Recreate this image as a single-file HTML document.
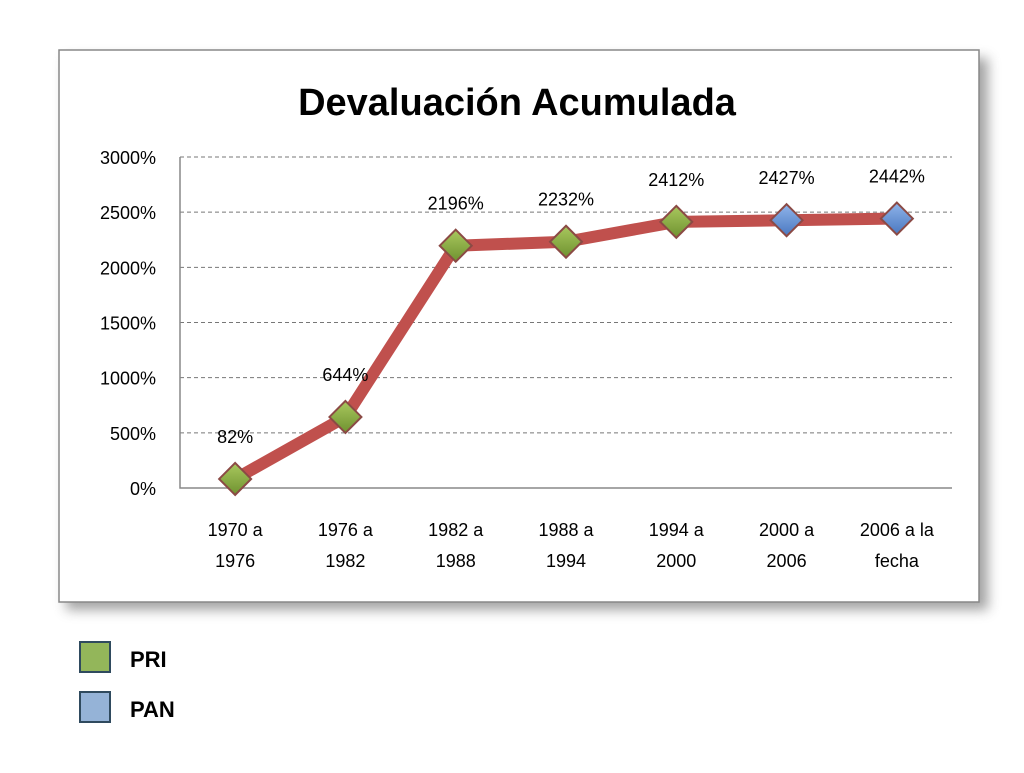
<!DOCTYPE html>
<html><head><meta charset="utf-8"><style>
body{margin:0;width:1024px;height:768px;background:#fff;font-family:"Liberation Sans",sans-serif;overflow:hidden}
</style></head><body>
<svg width="1024" height="768">
<defs><filter id="sh" x="-5%" y="-5%" width="115%" height="115%"><feGaussianBlur stdDeviation="6"/></filter>
<linearGradient id="gG" x1="0" y1="0" x2="0" y2="1"><stop offset="0" stop-color="#a9c85e"/><stop offset="1" stop-color="#6f9230"/></linearGradient>
<linearGradient id="gB" x1="0" y1="0" x2="0" y2="1"><stop offset="0" stop-color="#8fb4ea"/><stop offset="1" stop-color="#4a78c0"/></linearGradient></defs>
<rect x="66" y="58" width="922" height="552" fill="#666" opacity="0.6" filter="url(#sh)"/>
<rect x="59" y="50" width="920" height="552" fill="#fff" stroke="#888" stroke-width="1.5"/>
<text x="517" y="115" text-anchor="middle" font-size="38" font-weight="bold">Devaluación Acumulada</text>
<g id="grid"></g><g id="axes"></g><g id="marks"></g>
<rect x="80" y="642" width="30" height="30" fill="#93b65a" stroke="#2f4a5e" stroke-width="2"/>
<text x="130" y="667" font-size="22" font-weight="bold">PRI</text>
<rect x="80" y="692" width="30" height="30" fill="#95b3d7" stroke="#2f4a5e" stroke-width="2"/>
<text x="130" y="717" font-size="22" font-weight="bold">PAN</text>
</svg>
<script>
const categories1=["1970 a","1976 a","1982 a","1988 a","1994 a","2000 a","2006 a la"];
const categories2=["1976","1982","1988","1994","2000","2006","fecha"];
const values=[82,644,2196,2232,2412,2427,2442];
const parties=["PRI","PRI","PRI","PRI","PRI","PAN","PAN"];
const ticks=[0,500,1000,1500,2000,2500,3000];
const NS="http://www.w3.org/2000/svg";
const X0=180,X1=952,Y0=488,Y1=157,MAX=3000;
const x=i=>X0+(X1-X0)/categories1.length*(i+0.5);
const y=v=>Y0-(Y0-Y1)*v/MAX;
function mk(t,a,p){const e=document.createElementNS(NS,t);for(const k in a)e.setAttribute(k,a[k]);document.getElementById(p).appendChild(e);return e;}
ticks.forEach(t=>{
 if(t>0){const l=mk('line',{x1:X0,x2:X1,y1:y(t),y2:y(t),stroke:'#777','stroke-dasharray':'4,3'},'grid');
 
 }
 const tx=mk('text',{x:156,y:y(t)+7,'text-anchor':'end','font-size':18},'axes');tx.textContent=t+'%';
 
 
});
const ax=mk('path',{d:`M${X0},${Y1} V${Y0} H${X1}`,fill:'none',stroke:'#888','stroke-width':1.5},'axes');


categories1.forEach((c,i)=>{
 const a=mk('text',{x:x(i),y:536,'text-anchor':'middle','font-size':18},'axes');a.textContent=c;
 
 
 const b=mk('text',{x:x(i),y:567,'text-anchor':'middle','font-size':18},'axes');b.textContent=categories2[i];
 
 
});
const ln=mk('polyline',{points:values.map((v,i)=>x(i)+','+y(v)).join(' '),fill:'none',stroke:'#c0504d','stroke-width':12,'stroke-linejoin':'round'},'marks');


values.forEach((v,i)=>{
 const cx=x(i),cy=y(v),r=16;
 const d=mk('path',{d:`M${cx},${cy-r} L${cx+r},${cy} L${cx},${cy+r} L${cx-r},${cy} Z`,fill:parties[i]==='PRI'?'url(#gG)':'url(#gB)',stroke:'#8b4a45','stroke-width':2},'marks');
 
 
 const t=mk('text',{x:cx,y:cy-36,'text-anchor':'middle','font-size':18},'marks');t.textContent=v+'%';
 
 
});
</script>
</body></html>
